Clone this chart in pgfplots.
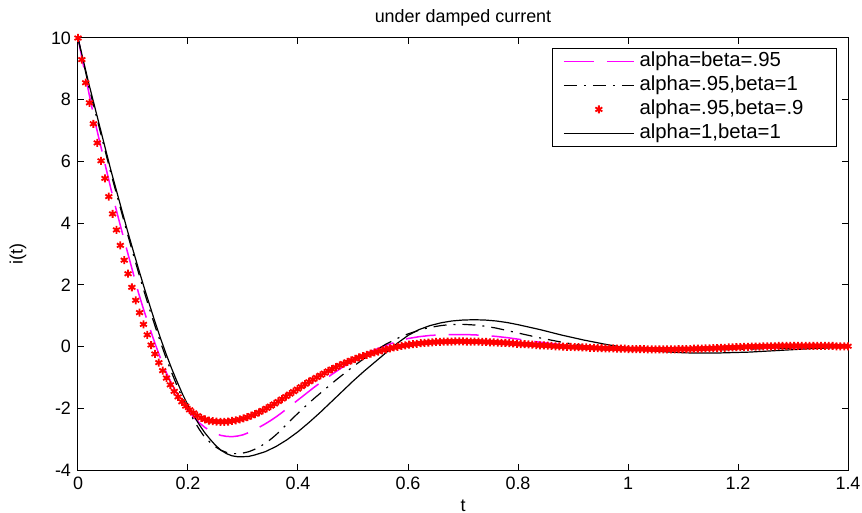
\documentclass[border=0pt]{standalone}
\usepackage{fontspec}
\setmainfont{Liberation Sans}
\usepackage{pgfplots}
\pgfplotsset{compat=1.18}
\definecolor{mlmag}{rgb}{1,0,1}
\newcommand{\legtxt}[1]{\makebox[91.5bp][l]{\fontsize{10.2}{12}\selectfont #1}}
\begin{document}
\begin{tikzpicture}[font=\fontsize{9}{10.8}\selectfont]
\begin{axis}[
  scale only axis, width=385bp, height=216bp,
  xmin=0, xmax=1.4, ymin=-4, ymax=10,
  xtick={0,0.2,0.4,0.6,0.8,1,1.2,1.4},
  ytick={-4,-2,0,2,4,6,8,10},
  tick align=inside, major tick length=3bp,
  axis line style={line width=0.5bp},
  every tick/.style={black, line width=0.5bp},
  /pgf/number format/assume math mode=true,
  every axis title shift=0pt,
  title={under damped current},
  title style={at={(axis description cs:0.5,1)}, anchor=center, yshift=10bp},
  xlabel={t},
  xlabel style={at={(axis description cs:0.5,0)}, anchor=center, yshift=-18bp},
  ylabel={i(t)},
  ylabel style={at={([xshift=-30bp]axis description cs:0,0.5)}, anchor=center},
  legend style={at={(1,1)}, anchor=north east, xshift=-5.5bp, yshift=-5bp,
    draw=black, inner xsep=5.5bp, inner ysep=0.5bp,
    column sep=1bp, row sep=0bp,
    nodes={inner xsep=1.5bp, inner ysep=1.25bp, text height=7.4bp, text depth=2.1bp}},
  legend cell align=left,
]
\addlegendimage{legend image code/.code={\draw[draw=mlmag, line width=0.75bp, dash pattern=on 15bp off 6.5bp] (0bp,0bp) -- (35bp,0bp);}}
\addlegendentry{\legtxt{alpha=beta=.95}}
\addlegendimage{legend image code/.code={\draw[draw=black, line width=0.6bp, dash pattern=on 6.5bp off 3.5bp on 1bp off 3.5bp] (0bp,0bp) -- (35bp,0bp);}}
\addlegendentry{\legtxt{alpha=.95,beta=1}}
\addlegendimage{legend image code/.code={\path[draw=none] (0bp,0bp) -- (35bp,0bp); \path[draw=red, line width=0.9bp] plot[mark=asterisk, mark size=2bp] coordinates {(17.5bp,0bp)};}}
\addlegendentry{\legtxt{alpha=.95,beta=.9}}
\addlegendimage{legend image code/.code={\draw[draw=black, line width=0.6bp] (0bp,0bp) -- (35bp,0bp);}}
\addlegendentry{\legtxt{alpha=1,beta=1}}
% alpha=beta=.95
\addplot[forget plot, draw=mlmag, line width=0.75bp, dash pattern=on 15bp off 6.5bp] coordinates {
(0,10) (0.01,9.1) (0.02,8.2) (0.03,7.35) (0.04,6.6) (0.05,5.85) (0.06,5.1) (0.07,4.4)
(0.08,3.72) (0.09,3.06) (0.10,2.40) (0.11,1.74) (0.12,1.16) (0.13,0.62) (0.14,0.10)
(0.15,-0.38) (0.16,-0.82) (0.17,-1.20) (0.18,-1.53) (0.19,-1.82) (0.20,-2.07)
(0.21,-2.28) (0.22,-2.46) (0.23,-2.61) (0.24,-2.73) (0.25,-2.82) (0.26,-2.88)
(0.27,-2.91) (0.28,-2.92) (0.29,-2.90) (0.30,-2.86) (0.31,-2.79) (0.32,-2.70)
(0.33,-2.61) (0.34,-2.51) (0.35,-2.40) (0.36,-2.28) (0.37,-2.15) (0.38,-2.01)
(0.39,-1.87) (0.40,-1.73) (0.41,-1.59) (0.42,-1.45) (0.43,-1.31) (0.44,-1.18)
(0.45,-1.05) (0.46,-0.92) (0.47,-0.80) (0.48,-0.68) (0.49,-0.57) (0.50,-0.46)
(0.51,-0.36) (0.52,-0.27) (0.53,-0.18) (0.54,-0.10) (0.55,-0.03) (0.56,0.04)
(0.57,0.10) (0.58,0.16) (0.59,0.21) (0.60,0.26) (0.62,0.32) (0.64,0.36) (0.66,0.38)
(0.68,0.39) (0.70,0.39) (0.72,0.38) (0.74,0.36) (0.76,0.33) (0.78,0.29) (0.80,0.24)
(0.82,0.19) (0.84,0.14) (0.86,0.10) (0.88,0.06) (0.90,0.03) (0.92,0.00) (0.94,-0.02)
(0.96,-0.04) (0.98,-0.06) (1.00,-0.07) (1.04,-0.08) (1.08,-0.09) (1.12,-0.09)
(1.16,-0.08) (1.20,-0.07) (1.25,-0.05) (1.30,-0.04) (1.35,-0.02) (1.40,-0.01)
};
% alpha=.95, beta=1
\addplot[forget plot, draw=black, line width=0.6bp, dash pattern=on 6.5bp off 3.5bp on 1bp off 3.5bp] coordinates {
(0,10) (0.01,9.2) (0.02,8.4) (0.03,7.7) (0.04,7.0) (0.05,6.3) (0.06,5.6) (0.07,4.95)
(0.08,4.3) (0.09,3.65) (0.10,3.02) (0.11,2.40) (0.12,1.80) (0.13,1.22) (0.14,0.67)
(0.15,0.14) (0.16,-0.36) (0.17,-0.83) (0.18,-1.27) (0.19,-1.67) (0.20,-2.04)
(0.21,-2.37) (0.22,-2.67) (0.23,-2.93) (0.24,-3.10) (0.25,-3.25) (0.26,-3.36)
(0.27,-3.43) (0.28,-3.47) (0.29,-3.47) (0.30,-3.45) (0.31,-3.41) (0.32,-3.34)
(0.33,-3.25) (0.34,-3.14) (0.35,-3.01) (0.36,-2.86) (0.37,-2.69) (0.38,-2.51)
(0.39,-2.33) (0.40,-2.16) (0.41,-1.99) (0.42,-1.83) (0.43,-1.67) (0.44,-1.52)
(0.45,-1.37) (0.46,-1.22) (0.47,-1.07) (0.48,-0.93) (0.49,-0.79) (0.50,-0.65)
(0.51,-0.52) (0.52,-0.39) (0.53,-0.26) (0.54,-0.14) (0.55,-0.03) (0.56,0.08)
(0.57,0.17) (0.58,0.26) (0.59,0.34) (0.60,0.41) (0.61,0.47) (0.62,0.53) (0.63,0.58)
(0.64,0.62) (0.65,0.65) (0.66,0.68) (0.67,0.70) (0.68,0.71) (0.69,0.72) (0.70,0.72)
(0.71,0.71) (0.72,0.70) (0.73,0.68) (0.74,0.66) (0.75,0.63) (0.76,0.60) (0.77,0.56)
(0.78,0.52) (0.79,0.48) (0.80,0.44) (0.82,0.36) (0.84,0.28) (0.86,0.21) (0.88,0.14)
(0.90,0.08) (0.92,0.03) (0.94,-0.01) (0.96,-0.04) (0.98,-0.07) (1.00,-0.09)
(1.02,-0.10) (1.04,-0.11) (1.06,-0.12) (1.08,-0.12) (1.10,-0.12) (1.14,-0.11)
(1.18,-0.10) (1.22,-0.08) (1.26,-0.06) (1.30,-0.05) (1.34,-0.03) (1.38,-0.02) (1.40,-0.01)
};
% alpha=.95, beta=.9
\addplot[forget plot, red, only marks, mark=asterisk, mark size=2bp, mark options={line width=0.9bp}] coordinates {
(0.000,10.00) (0.007,9.30) (0.014,8.55) (0.021,7.90) (0.028,7.22) (0.035,6.60)
(0.042,6.02) (0.049,5.45) (0.056,4.86) (0.063,4.30) (0.070,3.78) (0.077,3.28)
(0.084,2.80) (0.091,2.36) (0.098,1.92) (0.105,1.50) (0.112,1.10) (0.119,0.72)
(0.126,0.38) (0.133,0.05) (0.140,-0.24) (0.147,-0.52) (0.154,-0.78) (0.161,-1.02)
(0.168,-1.24) (0.175,-1.45) (0.182,-1.63) (0.189,-1.79) (0.196,-1.93) (0.203,-2.05)
(0.210,-2.15) (0.217,-2.24) (0.224,-2.31) (0.231,-2.36) (0.238,-2.40) (0.245,-2.42)
(0.252,-2.43) (0.259,-2.44) (0.266,-2.44) (0.273,-2.43) (0.280,-2.41) (0.287,-2.39)
(0.294,-2.36) (0.301,-2.33) (0.308,-2.29) (0.315,-2.24) (0.322,-2.19) (0.329,-2.13)
(0.336,-2.07) (0.343,-2.00) (0.350,-1.93) (0.357,-1.86) (0.364,-1.78) (0.371,-1.70)
(0.378,-1.62) (0.385,-1.54) (0.392,-1.46) (0.399,-1.38) (0.406,-1.30) (0.413,-1.22)
(0.420,-1.14) (0.427,-1.07) (0.434,-1.00) (0.441,-0.93) (0.448,-0.86) (0.455,-0.79)
(0.462,-0.73) (0.469,-0.67) (0.476,-0.61) (0.483,-0.55) (0.490,-0.50) (0.497,-0.45)
(0.504,-0.40) (0.511,-0.35) (0.518,-0.31) (0.525,-0.27) (0.532,-0.23) (0.539,-0.19)
(0.546,-0.16) (0.553,-0.12) (0.560,-0.09) (0.567,-0.06) (0.574,-0.03) (0.581,-0.01)
(0.588,0.02) (0.595,0.04) (0.602,0.06) (0.609,0.08) (0.616,0.09) (0.623,0.11)
(0.630,0.12) (0.637,0.13) (0.644,0.14) (0.651,0.15) (0.658,0.15) (0.665,0.16)
(0.672,0.16) (0.679,0.16) (0.686,0.17) (0.693,0.17) (0.700,0.17) (0.707,0.16)
(0.714,0.16) (0.721,0.16) (0.728,0.16) (0.735,0.15) (0.742,0.15) (0.749,0.14)
(0.756,0.14) (0.763,0.13) (0.770,0.12) (0.777,0.12) (0.784,0.11) (0.791,0.10)
(0.798,0.09) (0.805,0.08) (0.812,0.08) (0.819,0.07) (0.826,0.06) (0.833,0.05)
(0.840,0.04) (0.847,0.04) (0.854,0.03) (0.861,0.02) (0.868,0.01) (0.875,0.01)
(0.882,0.00) (0.889,-0.01) (0.896,-0.01) (0.903,-0.02) (0.910,-0.02) (0.917,-0.03)
(0.924,-0.03) (0.931,-0.04) (0.938,-0.04) (0.945,-0.05) (0.952,-0.05) (0.959,-0.06)
(0.966,-0.06) (0.973,-0.06) (0.980,-0.07) (0.987,-0.07) (0.994,-0.07) (1.001,-0.08)
(1.008,-0.08) (1.015,-0.08) (1.022,-0.08) (1.029,-0.08) (1.036,-0.09) (1.043,-0.09)
(1.050,-0.09) (1.057,-0.09) (1.064,-0.09) (1.071,-0.09) (1.078,-0.09) (1.085,-0.09)
(1.092,-0.08) (1.099,-0.08) (1.106,-0.08) (1.113,-0.08) (1.120,-0.07) (1.127,-0.07)
(1.134,-0.07) (1.141,-0.06) (1.148,-0.06) (1.155,-0.05) (1.162,-0.05) (1.169,-0.04)
(1.176,-0.04) (1.183,-0.03) (1.190,-0.03) (1.197,-0.02) (1.204,-0.02) (1.211,-0.01)
(1.218,-0.01) (1.225,0.00) (1.232,0.00) (1.239,0.00) (1.246,0.01) (1.253,0.01)
(1.260,0.01) (1.267,0.01) (1.274,0.02) (1.281,0.02) (1.288,0.02) (1.295,0.02)
(1.302,0.02) (1.309,0.02) (1.316,0.02) (1.323,0.02) (1.330,0.02) (1.337,0.02)
(1.344,0.02) (1.351,0.02) (1.358,0.02) (1.365,0.02) (1.372,0.02) (1.379,0.01)
(1.386,0.01) (1.393,0.01) (1.400,0.01)
};
% alpha=1, beta=1
\addplot[forget plot, draw=black, line width=0.6bp] coordinates {
(0,10) (0.01,9.25) (0.02,8.5) (0.03,7.8) (0.04,7.1) (0.05,6.4) (0.06,5.7) (0.07,5.05)
(0.08,4.4) (0.09,3.75) (0.10,3.13) (0.11,2.52) (0.12,1.93) (0.13,1.36) (0.14,0.80)
(0.15,0.27) (0.16,-0.23) (0.17,-0.70) (0.18,-1.13) (0.19,-1.54) (0.20,-1.90)
(0.21,-2.22) (0.22,-2.52) (0.23,-2.78) (0.24,-3.00) (0.25,-3.20) (0.26,-3.36)
(0.27,-3.47) (0.28,-3.54) (0.29,-3.57) (0.30,-3.57) (0.31,-3.56) (0.32,-3.52)
(0.34,-3.41) (0.36,-3.24) (0.38,-3.02) (0.40,-2.76) (0.42,-2.46) (0.44,-2.14)
(0.46,-1.80) (0.48,-1.46) (0.50,-1.12) (0.52,-0.80) (0.54,-0.50) (0.56,-0.20)
(0.58,0.10) (0.60,0.36) (0.62,0.55) (0.64,0.68) (0.66,0.77) (0.68,0.83) (0.70,0.86)
(0.72,0.87) (0.74,0.86) (0.76,0.83) (0.78,0.78) (0.80,0.71) (0.82,0.63) (0.84,0.55)
(0.86,0.46) (0.88,0.37) (0.90,0.29) (0.92,0.21) (0.94,0.14) (0.96,0.07) (0.98,0.01)
(1.00,-0.04) (1.02,-0.09) (1.04,-0.13) (1.06,-0.16) (1.08,-0.18) (1.10,-0.20)
(1.12,-0.21) (1.14,-0.21) (1.16,-0.21) (1.18,-0.20) (1.20,-0.19) (1.22,-0.18)
(1.24,-0.16) (1.26,-0.14) (1.28,-0.12) (1.30,-0.10) (1.32,-0.08) (1.34,-0.06)
(1.36,-0.05) (1.38,-0.03) (1.40,-0.02)
};
\end{axis}
\pgfresetboundingbox
\path[use as bounding box] ([xshift=-39bp,yshift=-21.5bp]current axis.south west) rectangle ([xshift=7bp,yshift=19bp]current axis.north east);
\end{tikzpicture}
\end{document}
